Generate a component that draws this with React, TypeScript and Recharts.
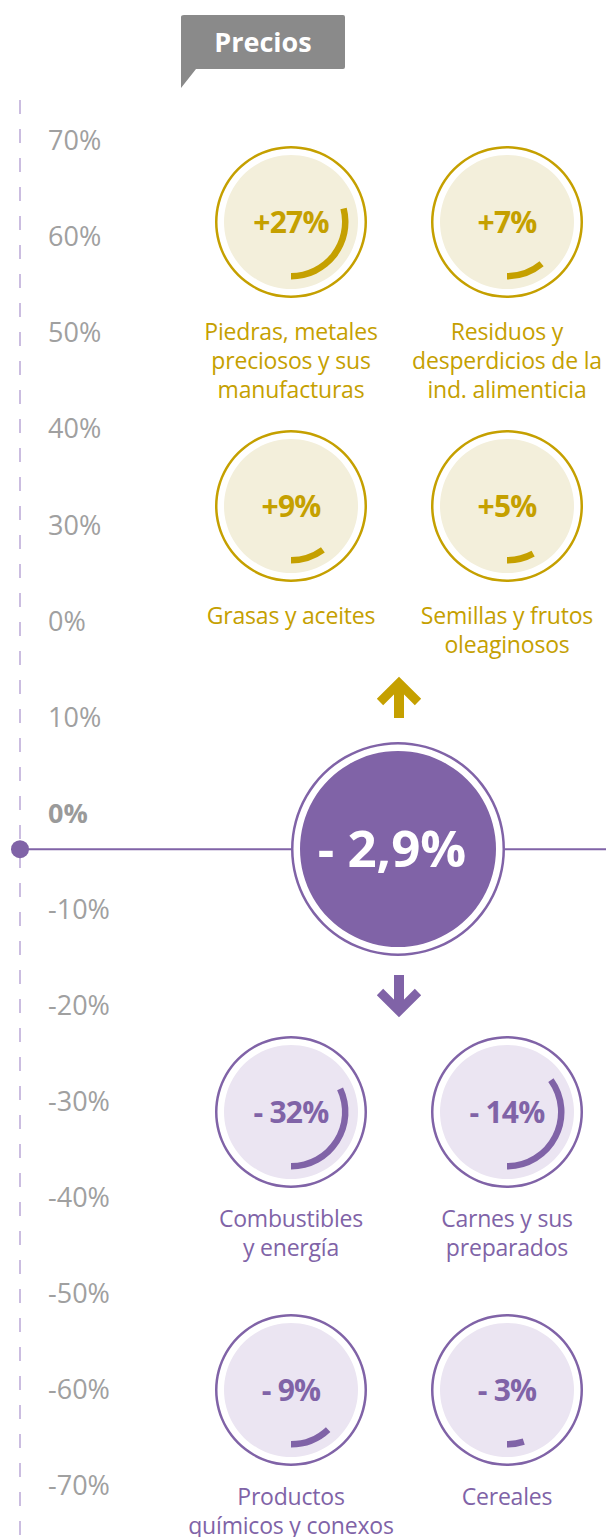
import { ComposedChart, Line, XAxis, YAxis, ReferenceDot, PieChart, Pie, Cell } from 'recharts';

const title = 'Precios';
const categoryLines = [
  ['Piedras, metales', 'preciosos y sus', 'manufacturas'],
  ['Residuos y', 'desperdicios de la', 'ind. alimenticia'],
  ['Grasas y aceites'],
  ['Semillas y frutos', 'oleaginosos'],
  ['Combustibles', 'y energía'],
  ['Carnes y sus', 'preparados'],
  ['Productos', 'químicos y conexos'],
  ['Cereales'],
];
// variación de precios por rubro (%)
const priceChange = [27, 7, 9, 5, -32, -14, -9, -3];
// porción de vuelta que ocupa el arco, tal como está dibujado (%)
const arcShare = [29, 11, 10, 8, 32, 35, 12, 5];
const totalChange = -2.9;
const yTicks = [70, 60, 50, 40, 30, 20, 10, 0, -10, -20, -30, -40, -50, -60, -70];
const yTickLabels = ['70%', '60%', '50%', '40%', '30%', '0%', '10%', '0%', '-10%', '-20%', '-30%', '-40%', '-50%', '-60%', '-70%'];
const baseline = [
  { x: 0, v: 0 },
  { x: 100, v: 0 },
];

const W = 606;
const H = 1537;
const FONT = '"Open Sans", "Noto Sans", sans-serif';
const GOLD = '#c5a000';
const GOLD_LIGHT = '#f3efdb';
const PURPLE = '#8063a7';
const PURPLE_LIGHT = '#ebe5f2';
const AXIS = '#cbbde0';
const GREY = '#a0a0a0';

const slotX = [291, 507];
const slotY = [222, 506, 1112, 1390];
const center = { x: 398, y: 849 };

function formatChange(v: number) {
  const txt = Math.abs(v).toString().replace('.', ',');
  return v > 0 ? `+${txt}%` : `- ${txt}%`;
}

function AxisTick(props: any) {
  const { x, y, payload } = props;
  const i = yTicks.indexOf(payload.value);
  return (
    <text
      x={x + 28}
      y={y - 36}
      dy="0.35em"
      textAnchor="start"
      fill={payload.value === 0 ? '#9a9a9a' : GREY}
      fontFamily={FONT}
      fontSize={27}
      fontWeight={payload.value === 0 ? 700 : 400}
    >
      {yTickLabels[i]}
    </text>
  );
}

export default function App() {
  const slots = priceChange.map((v, i) => ({
    v,
    cx: slotX[i % 2],
    cy: slotY[Math.floor(i / 2)],
    color: v > 0 ? GOLD : PURPLE,
    light: v > 0 ? GOLD_LIGHT : PURPLE_LIGHT,
    arc: [{ v: arcShare[i] }, { v: 100 - arcShare[i] }],
    lines: categoryLines[i],
    labelOffset: v > 0 ? 110 : 107,
  }));

  return (
    <div style={{ position: 'relative', width: W, height: H, background: '#fff', overflow: 'hidden' }}>
      <style>{`body{margin:0}`}</style>
      <div style={{ position: 'absolute', left: 0, top: 0 }}>
        <ComposedChart width={W} height={H} data={baseline} margin={{ top: 100, right: 0, bottom: 0, left: 19 }}>
          <XAxis dataKey="x" type="number" domain={[0, 100]} hide />
          <YAxis
            type="number"
            domain={[-71.6, 78]}
            allowDataOverflow
            ticks={yTicks}
            interval={0}
            width={1}
            tickSize={0}
            tickMargin={0}
            tickLine={false}
            axisLine={{ stroke: AXIS, strokeWidth: 2, strokeDasharray: '14 15' }}
            tick={<AxisTick />}
          />
          <Line dataKey="v" stroke={PURPLE} strokeWidth={2} dot={false} isAnimationActive={false} />
          <ReferenceDot x={0} y={0} r={9} fill={PURPLE} stroke="none" />
        </ComposedChart>
      </div>
      <div style={{ position: 'absolute', left: 0, top: 0 }}>
        <PieChart width={W} height={H} margin={{ top: 0, right: 0, bottom: 0, left: 0 }}>
          {/* círculo central */}
          <Pie data={[{ v: 1 }]} dataKey="v" cx={center.x} cy={center.y} innerRadius={0} outerRadius={107} fill="#fff" stroke="none" isAnimationActive={false} />
          <Pie data={[{ v: 1 }]} dataKey="v" cx={center.x} cy={center.y} innerRadius={104.5} outerRadius={107} fill={PURPLE} stroke="none" isAnimationActive={false} />
          <Pie data={[{ v: 1 }]} dataKey="v" cx={center.x} cy={center.y} innerRadius={0} outerRadius={98} fill={PURPLE} stroke="none" isAnimationActive={false} />
          {slots.map((s, i) => [
            <Pie key={`ring${i}`} data={[{ v: 1 }]} dataKey="v" cx={s.cx} cy={s.cy} innerRadius={73.5} outerRadius={76} fill={s.color} stroke="none" isAnimationActive={false} />,
            <Pie key={`disk${i}`} data={[{ v: 1 }]} dataKey="v" cx={s.cx} cy={s.cy} innerRadius={0} outerRadius={67} fill={s.light} stroke="none" isAnimationActive={false} />,
            <Pie
              key={`arc${i}`}
              data={s.arc}
              dataKey="v"
              cx={s.cx}
              cy={s.cy}
              startAngle={-90}
              endAngle={270}
              innerRadius={51}
              outerRadius={57.5}
              stroke="none"
              isAnimationActive={false}
            >
              <Cell fill={s.color} />
              <Cell fill="transparent" />
            </Pie>,
          ])}
        </PieChart>
      </div>
      <svg width={W} height={H} style={{ position: 'absolute', left: 0, top: 0, pointerEvents: 'none' }}>
        {/* título */}
        <path d="M184 15 H343 Q345 15 345 17 V67 Q345 69 343 69 H196 L181 88 V17 Q181 15 184 15 Z" fill="#8a8a8a" />
        <text x={263} y={43} dy="0.35em" textAnchor="middle" fill="#fff" fontFamily={FONT} fontSize={27} fontWeight={700}>
          {title}
        </text>
        {slots.map((s, i) => (
          <g key={`t${i}`}>
            <text x={s.cx} y={s.cy} dy="0.35em" textAnchor="middle" fill={s.color} fontFamily={FONT} fontSize={30} fontWeight={700} letterSpacing={-0.8}>
              {formatChange(s.v)}
            </text>
            {s.lines.map((ln, j) => (
              <text key={j} x={s.cx} y={s.cy + s.labelOffset + j * 29} dy="0.35em" textAnchor="middle" fill={s.color} fontFamily={FONT} fontSize={23} letterSpacing={-0.2}>
                {ln}
              </text>
            ))}
          </g>
        ))}
        <text x={center.x - 6} y={center.y} dy="0.35em" textAnchor="middle" fill="#fff" fontFamily={FONT} fontSize={51} fontWeight={700}>
          {formatChange(totalChange)}
        </text>
        {/* flechas */}
        <line x1={399} y1={684} x2={399} y2={718} stroke={GOLD} strokeWidth={10} />
        <polyline points="380,702 399,683 418,702" fill="none" stroke={GOLD} strokeWidth={9} />
        <line x1={399} y1={975} x2={399} y2={1010} stroke={PURPLE} strokeWidth={10} />
        <polyline points="380,992 399,1011 418,992" fill="none" stroke={PURPLE} strokeWidth={9} />
      </svg>
    </div>
  );
}
